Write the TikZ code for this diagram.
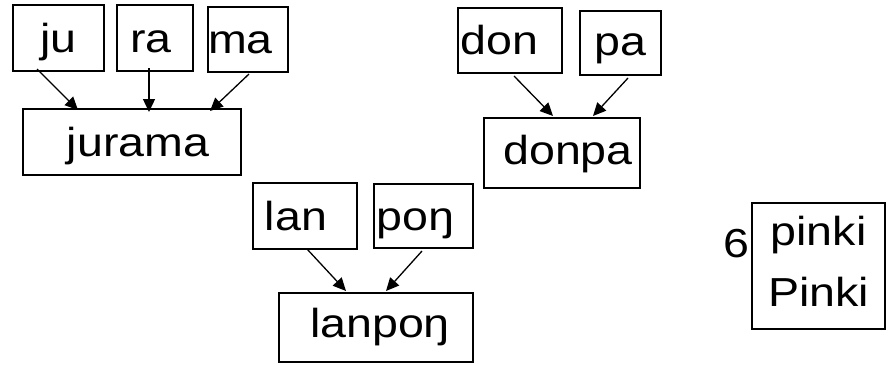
\documentclass[tikz,border=0pt]{standalone}
\usepackage{fontspec}
\setmainfont{Liberation Sans}[FakeStretch=1.15]
\usetikzlibrary{arrows.meta}

\begin{document}
\begin{tikzpicture}[
x=1pt, y=-1pt,
font=\fontsize{40.5pt}{61pt}\selectfont,
cell/.style={draw=black, line width=2pt, inner sep=0pt, text height=28pt, text depth=0pt},
nudge/.style={execute at begin node={\hspace*{#1}}},
arrow/.style={-{Triangle[length=13pt,width=12pt]}, draw=black, line width=1.3pt}
]
\useasboundingbox (0,0) rectangle (890,365);

\node[cell, minimum width=91pt, minimum height=66pt] (ju) at (58.5,38) {ju};
\node[cell, nudge=-8pt, minimum width=76pt, minimum height=66pt] (ra) at (155,38) {ra};
\node[cell, nudge=-15pt, minimum width=80pt, minimum height=65pt] (ma) at (248,39.5) {ma};
\node[cell, nudge=12pt, minimum width=218pt, minimum height=66pt] (jurama) at (132,142) {jurama};

\node[cell, nudge=-21pt, minimum width=104pt, minimum height=65pt] (don) at (510,40.5) {don};
\node[cell, minimum width=81pt, minimum height=64pt, text height=24pt] (pa) at (620.5,43) {pa};
\node[cell, nudge=12pt, minimum width=156pt, minimum height=70pt, text height=23pt] (donpa) at (562,153) {donpa};

\node[cell, nudge=-18pt, minimum width=104pt, minimum height=66pt] (lan) at (305,216) {lan};
\node[cell, nudge=-16pt, minimum width=99pt, minimum height=64pt] (pong) at (423.5,216) {poŋ};
\node[cell, nudge=8pt, minimum width=194pt, minimum height=69pt, text height=19pt] (lanpong) at (376,327.5) {lanpoŋ};

\node[cell, align=center, minimum width=133pt, minimum height=126pt, text height={}, text depth=10pt] (pinki) at (818.5,266) {pinki\\Pinki};
\node (six) at (736,243.5) {6};

\draw[arrow] ([xshift=-21.5pt,yshift=3pt]ju.south) -- ([xshift=-54pt,yshift=-2pt]jurama.north);
\draw[arrow] ([xshift=-6pt,yshift=4pt]ra.south) -- ([xshift=17pt,yshift=-4pt]jurama.north);
\draw[arrow] ([xshift=1pt,yshift=-1pt]ma.south) -- ([xshift=78pt,yshift=-3pt]jurama.north);
\draw[arrow] ([xshift=4pt,yshift=-2pt]don.south) -- ([xshift=-9pt,yshift=1pt]donpa.north);
\draw[arrow] ([xshift=7.5pt,yshift=-2pt]pa.south) -- ([xshift=31pt,yshift=1pt]donpa.north);
\draw[arrow] ([xshift=2pt,yshift=1pt]lan.south) -- ([xshift=-30pt,yshift=1pt]lanpong.north);
\draw[arrow] ([xshift=-1.5pt,yshift=-2pt]pong.south) -- ([xshift=10pt,yshift=1pt]lanpong.north);
\end{tikzpicture}
\end{document}
